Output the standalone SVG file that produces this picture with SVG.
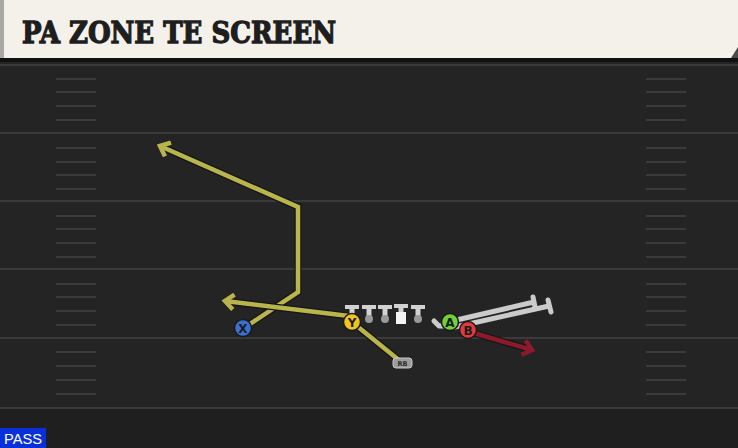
<svg xmlns="http://www.w3.org/2000/svg" width="738" height="448" viewBox="0 0 738 448">
<style>
.yl{stroke:#3a3a3a;stroke-width:2}
.hs{stroke:#3b3b3b;stroke-width:2}
.out{fill:none;stroke:#161616;stroke-width:7;stroke-linejoin:miter;stroke-linecap:butt}
.ol{fill:none;stroke:#b9b54c;stroke-width:4.5;stroke-linejoin:miter}
.rd{fill:none;stroke:#8c1a2c;stroke-width:4.5}
.gr{fill:none;stroke:#cbcbcb;stroke-width:5;stroke-linecap:round}
.gro{fill:none;stroke:#262626;stroke-width:8;stroke-linecap:round}
.lbl{font-family:"DejaVu Sans","Liberation Sans",sans-serif;font-weight:bold;font-size:12px;fill:#1b1b1b;text-anchor:middle}
.pc{stroke:#1a1a1a;stroke-width:1.5}
.ln{fill:#d2d2d2}
.lc{fill:#9a9a9a}
</style>
<defs>
<marker id="aO" markerUnits="userSpaceOnUse" markerWidth="18" markerHeight="18" refX="0" refY="0" viewBox="-11 -9 15 18" orient="auto">
<path d="M-7,-6 L0,0 L-7,6" fill="none" stroke="#b9b54c" stroke-width="4.5" stroke-linecap="square"/>
</marker>
<marker id="aR" markerUnits="userSpaceOnUse" markerWidth="18" markerHeight="18" refX="0" refY="0" viewBox="-11 -9 15 18" orient="auto">
<path d="M-7,-6 L0,0 L-7,6" fill="none" stroke="#8c1a2c" stroke-width="4.5" stroke-linecap="square"/>
</marker>
</defs>
<!-- field -->
<rect x="0" y="0" width="738" height="448" fill="#242424"/>
<rect x="0" y="408" width="738" height="40" fill="#1f1f1f"/>
<g id="yardlines">
<line class="yl" x1="0" y1="65" x2="738" y2="65"/>
<line class="yl" x1="0" y1="133" x2="738" y2="133"/>
<line class="yl" x1="0" y1="201" x2="738" y2="201"/>
<line class="yl" x1="0" y1="269" x2="738" y2="269"/>
<line class="yl" x1="0" y1="338" x2="738" y2="338"/>
<line class="yl" x1="0" y1="408" x2="738" y2="408"/>
</g>
<g id="hashes">
<path class="hs" d="M56,79H96M56,92H96M56,106H96M56,120H96M56,148H96M56,162H96M56,175H96M56,189H96M56,216H96M56,229H96M56,243H96M56,257H96M56,284H96M56,297H96M56,311H96M56,325H96M56,352H96M56,366H96M56,380H96M56,394H96"/>
<path class="hs" d="M646,79H686M646,92H686M646,106H686M646,120H686M646,148H686M646,162H686M646,175H686M646,189H686M646,216H686M646,229H686M646,243H686M646,257H686M646,284H686M646,297H686M646,311H686M646,325H686M646,352H686M646,366H686M646,380H686M646,394H686"/>
</g>
<!-- header -->
<g id="header">
<rect x="0" y="0" width="738" height="58" fill="#f3f1ea"/>
<rect x="0" y="0" width="4" height="58" fill="#a8a9a5"/>
<polygon points="731,58 738,47 738,58" fill="#4a4a4a"/>
<rect x="0" y="58" width="738" height="4" fill="#111111"/>
<text x="22" y="43" font-family="'DejaVu Serif','Liberation Serif',serif" font-weight="900" font-size="29" fill="#1e1e1e" stroke="#1e1e1e" stroke-width="1.3" textLength="314" lengthAdjust="spacingAndGlyphs">PA ZONE TE SCREEN</text>
</g>
<!-- connectors -->
<g id="connectors">
<polyline class="out" points="244,328 298,292 298,207 160,146"/>
<polyline class="ol" points="244,328 298,292 298,207 160,146" marker-end="url(#aO)"/>
<line class="out" x1="349" y1="316" x2="225" y2="301"/>
<line class="ol" x1="349" y1="316" x2="225" y2="301" marker-end="url(#aO)"/>
<line class="out" x1="352" y1="322" x2="400" y2="361"/>
<line class="ol" x1="352" y1="322" x2="400" y2="361"/>
<line class="out" x1="467" y1="331" x2="532" y2="350"/>
<line class="rd" x1="467" y1="331" x2="532" y2="350" marker-end="url(#aR)"/>
<g id="blocks">
<path class="gro" d="M448,322 L534,302 M533,297 L535,307"/>
<path class="gro" d="M455,327 L549,306 M548,300 L551,312"/>
<path class="gr" d="M448,322 L534,302 M533,297 L535,307"/>
<path class="gr" d="M455,327 L549,306 M548,300 L551,312"/>
<path class="gro" d="M446,326 L439,326 L434,321" stroke-linejoin="round"/>
<path class="gr" d="M446,326 L439,326 L434,321" stroke-linejoin="round"/>
</g>
</g>
<!-- linemen -->
<g id="ol">
<g id="lt"><rect class="ln" x="345" y="305" width="14" height="4"/><rect class="ln" x="349.5" y="308" width="5" height="11"/><circle class="lc" cx="352" cy="319" r="4"/></g>
<g id="lg"><rect class="ln" x="362" y="305" width="14" height="4"/><rect class="ln" x="366.5" y="308" width="5" height="11"/><circle class="lc" cx="369" cy="319" r="4"/></g>
<g id="c"><rect class="ln" x="378" y="305" width="14" height="4"/><rect class="ln" x="382.5" y="308" width="5" height="11"/><circle class="lc" cx="385" cy="319" r="4"/></g>
<g id="rg"><rect class="ln" x="394" y="304" width="14" height="4"/><rect class="ln" x="398.5" y="307" width="5" height="6"/><rect x="396" y="312" width="10" height="12" fill="#f4f4f4"/></g>
<g id="rt"><rect class="ln" x="411" y="305" width="14" height="4"/><rect class="ln" x="415.5" y="308" width="5" height="11"/><circle class="lc" cx="418" cy="319" r="4"/></g>
</g>
<!-- players -->
<g id="X"><circle class="pc" cx="243" cy="328" r="8.5" fill="#3b6fd1"/><text class="lbl" x="243" y="332.5">X</text></g>
<g id="Y"><circle class="pc" cx="352" cy="322" r="8.5" fill="#f1c61c"/><text class="lbl" x="352" y="326.5">Y</text></g>
<g id="A"><circle class="pc" cx="450" cy="322" r="8.5" fill="#6fcf3c"/><text class="lbl" x="450" y="326.5">A</text></g>
<g id="B"><circle class="pc" cx="468" cy="330" r="8.5" fill="#e03a3f"/><text class="lbl" x="468" y="334.5">B</text></g>
<g id="RB"><rect x="393" y="358" width="19" height="10" rx="3" fill="#9d9d9d" stroke="#c8c8c8" stroke-width="1"/><text x="402.5" y="366" font-family="'DejaVu Sans',sans-serif" font-weight="bold" font-size="6.5" fill="#2b2b2b" text-anchor="middle">RB</text></g>
<!-- PASS tag -->
<g id="pass">
<rect x="0" y="428" width="46" height="20" fill="#0a31d9"/>
<text x="4" y="444" font-family="'Liberation Sans',sans-serif" font-size="15" fill="#ffffff" textLength="38" lengthAdjust="spacingAndGlyphs">PASS</text>
</g>
</svg>
